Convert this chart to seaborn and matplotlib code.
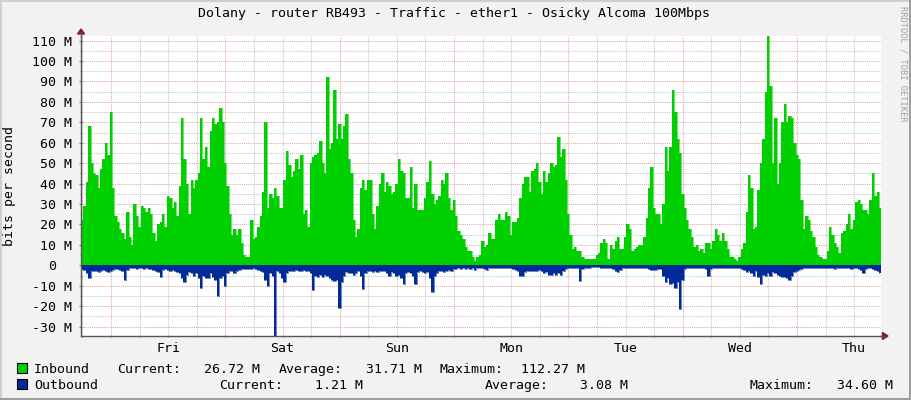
import numpy as np
import pandas as pd
import matplotlib
matplotlib.use("Agg")
import matplotlib.pyplot as plt
import matplotlib.transforms as mtransforms
from matplotlib.lines import Line2D
from matplotlib.patches import Polygon, Rectangle
import seaborn as sns

# ---------------- data (Mbit/s, 30-minute samples) ----------------
inbound = [
    22, 29, 41, 68, 50, 45, 44, 38, 47, 52,
    60, 54, 75, 38, 24, 21, 18, 16, 13, 26,
    14, 10, 30, 24, 19, 29, 28, 26, 28, 25,
    16, 12, 20, 21, 25, 19, 34, 33, 28, 31,
    24, 39, 72, 52, 40, 25, 42, 38, 42, 45,
    72, 52, 58, 48, 66, 72, 69, 70, 77, 70,
    50, 39, 25, 15, 18, 15, 18, 11, 5, 4,
    4, 22, 13, 14, 19, 24, 36, 70, 28, 35,
    33, 38, 34, 28, 28,
    42, 56, 49, 43, 46, 52, 47, 54, 25, 27,
    19, 50, 53, 54, 55, 61, 50, 45, 92, 57,
    60, 86, 62, 69, 62, 68, 74, 52, 45, 22,
    14, 18, 38, 42, 37, 42, 42, 25, 18, 29,
    40, 45, 36, 41, 39, 35, 36, 40, 52, 46,
    45, 33, 33, 48, 28, 40, 27, 27, 27, 33,
    41, 51, 35, 30, 32, 34, 42, 40, 45, 33,
    27, 32, 24, 17, 15, 13, 9, 7, 7, 4,
    2, 4, 5, 12,
    9, 10, 16, 13, 13, 22, 25, 22, 22, 26,
    24, 15, 21, 21, 23, 33, 40, 43, 43, 36,
    46, 47, 50, 41, 35, 46, 41, 45, 50, 48,
    49, 63, 53, 57, 42, 25, 15, 8, 9, 7,
    7, 4, 3, 3, 3, 3, 3, 5, 6, 11,
    13, 11, 3, 10, 8, 12, 14, 8, 8, 14,
    20, 18, 7, 8, 9, 10, 10, 14, 23, 38,
    48, 28, 25, 25, 20, 30, 58, 46, 58, 86,
    75, 62, 55, 35, 28,
    22, 18, 14, 9, 10, 7, 8, 6, 11, 11,
    8, 12, 18, 15, 12, 16, 12, 8, 4, 4,
    3, 2, 4, 8, 11, 26, 44, 38, 18, 19,
    37, 50, 62, 85, 112.27, 88, 50, 72, 40, 50,
    70, 79, 70, 73, 72, 60, 54, 52, 32, 18,
    24, 22, 17, 14, 9, 5, 4, 3, 3, 7,
    19, 15, 11, 9, 6, 16, 17, 20, 25, 18,
    22, 31, 32, 30, 27, 27, 25, 32, 45, 34,
    36, 28,
]

outbound = [
    -2, -2.5, -4, -6, -3, -3, -3, -3.5, -3, -2.5,
    -3, -3.5, -3, -2.5, -2, -2, -2.5, -3, -7, -2.5,
    -1.5, -1.5, -1.5, -2, -1.5, -1.5, -2, -1.5, -2, -2,
    -2.5, -3, -3.5, -5.5, -2.5, -2, -2.5, -3, -2.5, -3,
    -3.5, -4, -6, -8, -4.5, -3.5, -4, -5, -4, -6,
    -11, -5, -6, -6, -4, -5.5, -7, -15, -6, -5,
    -10, -4, -3, -3, -4, -3, -2.5, -2, -2, -2,
    -2, -2, -1.5, -2, -2.5, -3, -3.5, -7, -10, -4,
    -5, -34.6, -3, -4, -6, -8, -4, -3, -3, -3,
    -2.5, -3, -3, -2.5, -3, -3, -4, -12, -5, -5.5,
    -4.5, -5.5, -4.5, -5, -6, -7, -7.5, -7, -21, -8,
    -5, -3.5, -4, -4, -4.5, -4, -3, -5, -11.5, -4,
    -3, -3, -3.5, -3, -3.5, -3, -3, -3, -4, -5,
    -3.5, -4, -5, -4.5, -6, -9, -4, -3.5, -4, -5,
    -9, -3.5, -3, -3.5, -4, -3.5, -6, -13, -5, -4,
    -3, -3, -3.5, -3, -2.5, -3, -2, -2, -1.5, -2,
    -1.5, -2, -1.5, -2, -1.5, -2.5, -1.5, -1.5, -1.5, -2,
    -2.5,
    -1.5, -1.5, -1.5, -1.5, -1.5, -1.5, -1.5, -1.5, -1.5, -1.5,
    -2, -2.5, -3, -5, -5, -3.5, -3, -3, -3, -3,
    -3, -2.5, -3, -4, -3.5, -4.5, -4.5, -4, -4.5, -4,
    -4.5, -3, -2, -1.5, -1.5, -1.5, -1.5, -1.5, -7.5, -2,
    -1.5, -1.5, -1.5, -1, -1, -1, -1, -1.5, -1.5, -1.5,
    -1.5, -1.5, -2, -3, -3.5, -2.5, -1.5, -1.5, -1.5, -1.5,
    -1.5, -1.5, -1.5, -1.5, -1.5, -1.5, -1.5, -2, -2.5, -2.5,
    -2.5, -2, -2, -5, -8, -6, -9, -8.5, -11, -8,
    -21.5, -7, -2, -1.5, -1.5, -1.5, -1.5, -1.5, -1.5, -1.5,
    -1.5, -2, -5, -2, -1.5, -1.5, -1.5, -1.5, -1.5, -1.5,
    -1.5, -1.5, -1.5, -1.5, -1.5, -1.5, -2, -2.5, -3.5, -3,
    -4, -5, -3, -5.5, -9, -4.5, -5, -4, -5, -3.5,
    -4, -4.5, -5, -5.5, -5.5, -6, -7, -5, -3.5, -3,
    -2.5, -2, -1.5, -1.5, -1.5, -1.5, -1.5, -1.5, -1.5, -1.5,
    -1.5, -1.5, -1.5, -1.5, -1.5, -2, -1.5, -1.5, -1.5, -1.5,
    -1.5, -1.5, -2, -1.5, -1.5, -2, -2.5, -4, -2, -1.5,
    -1.5, -2, -2.5, -3, -4,
]

day_labels = ["Fri", "Sat", "Sun", "Mon", "Tue", "Wed", "Thu"]
y_tick_values = [-30, -20, -10, 0, 10, 20, 30, 40, 50, 60, 70, 80, 90, 100, 110]
y_tick_labels = ["-30 M", "-20 M", "-10 M", "0", "10 M", "20 M", "30 M", "40 M",
                 "50 M", "60 M", "70 M", "80 M", "90 M", "100 M", "110 M"]

title = "Dolany - router RB493 - Traffic - ether1 - Osicky Alcoma 100Mbps"
legend_rows = [
    ("Inbound", [("Current:", "26.72 M"), ("Average:", "31.71 M"), ("Maximum:", "112.27 M")]),
    ("Outbound", [("Current:", "1.21 M"), ("Average:", "3.08 M"), ("Maximum:", "34.60 M")]),
]

# ---------------- style ----------------
GREEN = "#00CF00"
BLUE = "#002A97"
BACK = "#F2F2F2"
MGRID = "#E9A3A3"
GRID = "#C4C4C4"

sns.set_theme(style="white")
plt.rcParams["font.family"] = ["DejaVu Sans Mono", "DejaVu Sans"]
FS = 9.5

W, H = 911, 400
def fx(x):
    return x / W
def fy(y):
    return 1 - y / H

fig = plt.figure(figsize=(W / 100, H / 100), dpi=100, facecolor=BACK)
ax = fig.add_axes([fx(81), 64 / H, 800 / W, 300 / H])
ax.set_facecolor("white")

step_h = 0.5
start_h = -6.3
t_in = start_h + step_h * np.arange(len(inbound))
t_out = start_h + step_h * np.arange(len(outbound))
edges_in = start_h + step_h * np.arange(len(inbound) + 1)
edges_out = start_h + step_h * np.arange(len(outbound) + 1)

x_min = start_h
x_max = start_h + 800 / 4.764
y_min, y_max = -34.6, 112.27

# grid (below data)
dot = (0, (1, 1))
for yv in np.arange(-30, 115, 5):
    major = (yv % 10 == 0)
    ax.axhline(yv, color=MGRID if major else GRID, lw=0.75, ls=dot, zorder=1)
for xv in np.arange(-6, x_max, 6):
    major = (xv % 24 == 0)
    ax.axvline(xv, color=MGRID if major else GRID, lw=0.75, ls=dot, zorder=1)

# data areas
ax.stairs(inbound, edges_in, baseline=0, fill=True, color=GREEN, lw=0, zorder=2)
ax.stairs(outbound, edges_out, baseline=0, fill=True, color=BLUE, lw=0, zorder=2)
df_in = pd.DataFrame({"t": t_in, "v": inbound})
df_out = pd.DataFrame({"t": t_out, "v": outbound})
sns.lineplot(data=df_in, x="t", y="v", drawstyle="steps-post", color=GREEN,
             lw=0.4, ax=ax, zorder=2, legend=False, estimator=None)
sns.lineplot(data=df_out, x="t", y="v", drawstyle="steps-post", color=BLUE,
             lw=0.4, ax=ax, zorder=2, legend=False, estimator=None)

ax.set_xlim(x_min, x_max)
ax.set_ylim(y_min, y_max)
ax.set_xlabel("")
ax.set_ylabel("")

# spines / axes lines
for s in ["top", "right"]:
    ax.spines[s].set_visible(False)
for s in ["left", "bottom"]:
    ax.spines[s].set_color("#555555")
    ax.spines[s].set_linewidth(1.0)
    ax.spines[s].set_zorder(4)

# x ticks: labels at noon, small ticks every 6 h
ax.set_xticks(12 + 24 * np.arange(len(day_labels)))
ax.set_xticklabels(day_labels, fontsize=FS, color="black")
ax.set_xticks(np.arange(-6, x_max, 6), minor=True)
ax.xaxis.remove_overlapping_locs = False
ax.tick_params(axis="x", which="major", length=0, pad=4)
ax.tick_params(axis="x", which="minor", length=2, width=0.8, color="#888888",
               direction="inout", bottom=True)

# y ticks (labels drawn as text for rrdtool-like alignment)
ax.set_yticks(y_tick_values)
ax.set_yticklabels([])
ax.set_yticks(np.arange(-30, 115, 5), minor=True)
ax.tick_params(axis="y", which="major", length=3, width=0.8, color="#777777",
               direction="inout", left=True)
ax.tick_params(axis="y", which="minor", length=2, width=0.8, color="#999999",
               direction="inout", left=True)
lab_tr = mtransforms.blended_transform_factory(fig.transFigure, ax.transData)
for v, s in zip(y_tick_values, y_tick_labels):
    xr = 72.5 if s != "0" else 56
    ax.text(fx(xr), v, s, transform=lab_tr, ha="right", va="center_baseline",
            fontsize=FS, color="black", clip_on=False)

# arrows at the axis ends
ARROW = "#801F1F"
fig.add_artist(Line2D([fx(81), fx(81)], [fy(36.5), fy(32)], color="#555555", lw=1.0))
fig.add_artist(Polygon([(fx(77.5), fy(34)), (fx(84.5), fy(34)), (fx(81), fy(29))],
                       closed=True, color=ARROW, transform=fig.transFigure))
fig.add_artist(Line2D([fx(880), fx(884)], [fy(336), fy(336)], color="#555555", lw=1.0))
fig.add_artist(Polygon([(fx(882.5), fy(332.5)), (fx(882.5), fy(339.5)), (fx(888), fy(336))],
                       closed=True, color=ARROW, transform=fig.transFigure))

# title, axis label, watermark
fig.text(fx(454.5), fy(14), title, ha="center", va="center", fontsize=FS, color="black")
fig.text(fx(10), fy(186), "bits per second", rotation=90, ha="center", va="center",
         fontsize=FS, color="black")
fig.text(fx(903), fy(6), "RRDTOOL / TOBI OETIKER", rotation=-90, ha="center", va="top",
         fontsize=6.2, color="#A0A0A0")

# legend
row_y = [368, 384]
colors = [GREEN, BLUE]
label_x = [[117, 204, 279, 366, 439, 521], [219, 315, 485, 580, 750, 837]]
for (name, stats), yy, c, xs in zip(legend_rows, row_y, colors, label_x):
    fig.add_artist(Rectangle((fx(17), fy(yy + 5)), 10 / W, 10 / H, transform=fig.transFigure,
                             facecolor=c, edgecolor="black", lw=0.8))
    fig.text(fx(34), fy(yy), name, ha="left", va="center_baseline", fontsize=FS, color="black")
    i = 0
    for lab, val in stats:
        fig.text(fx(xs[i]), fy(yy), lab, ha="left", va="center_baseline", fontsize=FS, color="black")
        fig.text(fx(xs[i + 1]), fy(yy), val, ha="left", va="center_baseline", fontsize=FS, color="black")
        i += 2

# 3D-ish frame around the image
fig.add_artist(Rectangle((0, 0), 2 / W, 1, transform=fig.transFigure, color="#CFCFCF", lw=0))
fig.add_artist(Rectangle((0, 1 - 2 / H), 1, 2 / H, transform=fig.transFigure, color="#CFCFCF", lw=0))
fig.add_artist(Rectangle((1 - 2 / W, 0), 2 / W, 1, transform=fig.transFigure, color="#9E9E9E", lw=0))
fig.add_artist(Rectangle((0, 0), 1, 2 / H, transform=fig.transFigure, color="#9E9E9E", lw=0))

fig.savefig("out.png", dpi=100, facecolor=BACK)
